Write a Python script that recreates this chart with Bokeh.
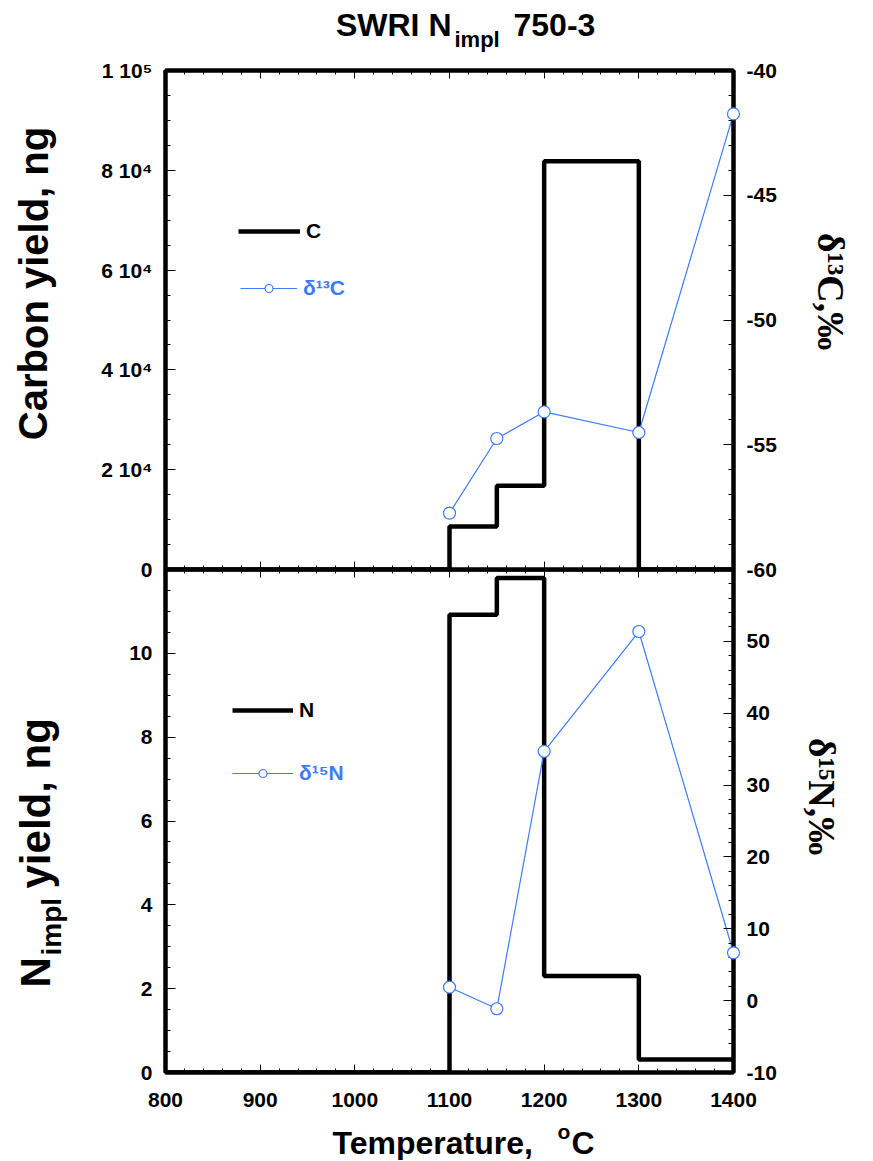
from bokeh.plotting import figure
from bokeh.models import (Range1d, LinearAxis, FixedTicker, Legend,
                          LegendItem, ColumnDataSource)
from bokeh.core.properties import value
from bokeh.layouts import column
from bokeh.embed import file_html
from bokeh.resources import INLINE

# ---------------- data ----------------
step_temps = [800, 1100, 1150, 1200, 1300, 1400]
c_yield = [0, 8600, 16800, 81800, 0, 0]
n_yield = [0, 10.92, 11.80, 2.30, 0.31, 0.31]

d_temps = [1100, 1150, 1200, 1300, 1400]
d13c = [-57.74, -54.75, -53.68, -54.51, -41.74]
d15n = [1.87, -1.13, 34.7, 51.37, 6.66]

x_ticks = [800, 900, 1000, 1100, 1200, 1300, 1400]
x_minor = list(range(800, 1401, 20))
c_ticks = [0, 20000, 40000, 60000, 80000, 100000]
c_tick_labels = ["0", "2 10⁴", "4 10⁴", "6 10⁴", "8 10⁴", "1 10⁵"]
c_minor = list(range(0, 100001, 5000))
d13_ticks = [-60, -55, -50, -45, -40]
d13_tick_labels = ["-60", "-55", "-50", "-45", "-40"]
d13_minor = list(range(-60, -39, 1))
n_ticks = [0, 2, 4, 6, 8, 10]
n_minor = [i * 0.5 for i in range(0, 25)]
d15_ticks = [-10, 0, 10, 20, 30, 40, 50]
d15_tick_labels = ["-10", "0", "10", "20", "30", "40", "50"]
d15_minor = list(range(-10, 61, 2))

FONT = "Liberation Sans"
SERIF = "Liberation Serif"
BLUE = "#3d7cf5"
ROT = 1.5707963

# frame geometry in page pixels
FL, FR, T1, B1, B2 = 165, 733, 70, 569, 1072


def xd(px):
    return 800 + (px - FL) * 600.0 / (FR - FL)


def y1(py):
    return (B1 - py) * 100000.0 / (B1 - T1)


def y2(py):
    return (B2 - py) * 12.0 / (B2 - B1)


def style_y(ax, ticks, minor, labels=None):
    ax.ticker = FixedTicker(ticks=ticks, minor_ticks=minor)
    if labels is not None:
        ax.major_label_overrides = dict(zip(ticks, labels))
    ax.axis_line_width = 4
    ax.axis_line_color = "black"
    ax.major_tick_in = 10
    ax.major_tick_out = 0
    ax.minor_tick_in = 5
    ax.minor_tick_out = 0
    ax.major_tick_line_color = "black"
    ax.minor_tick_line_color = "black"
    ax.major_tick_line_width = 1
    ax.minor_tick_line_width = 1
    ax.major_label_text_font = FONT
    ax.major_label_text_font_style = "bold"
    ax.major_label_text_font_size = "21px"
    ax.major_label_text_color = "black"
    ax.major_label_standoff = 13


def style_x(ax, show_labels, cross=False):
    ax.ticker = FixedTicker(ticks=x_ticks, minor_ticks=x_minor)
    ax.axis_line_width = 4
    ax.axis_line_color = "black"
    ax.major_tick_in = 8
    ax.major_tick_out = 8 if cross else 0
    ax.minor_tick_in = 4
    ax.minor_tick_out = 4 if cross else 0
    ax.major_tick_line_color = "black"
    ax.minor_tick_line_color = "black"
    ax.major_tick_line_width = 1
    ax.minor_tick_line_width = 1
    ax.major_label_text_font = FONT
    ax.major_label_text_font_style = "bold"
    ax.major_label_text_color = "black"
    if show_labels:
        ax.major_label_text_font_size = "21px"
        ax.major_label_standoff = 20
    else:
        ax.major_label_overrides = {t: "" for t in x_ticks}
        ax.major_label_text_font_size = "1px"
        ax.major_label_standoff = 0


def add_text(p, text, px, py, yfun, size, align="left", angle=0.0,
             font=FONT, color="black"):
    # (px, py) = page position of the text's vertical middle
    p.text(x=[xd(px)], y=[yfun(py)], text=[text], angle=angle,
           text_font=value(font), text_font_style="bold",
           text_font_size=value(f"{size}px"), text_align=align,
           text_baseline="middle", text_color=color, level="overlay")


def make_legend(item, loc, color, glyph_w):
    return Legend(items=[item], location=loc, glyph_width=glyph_w,
                  glyph_height=20, label_height=20, label_standoff=6,
                  padding=0, margin=0, spacing=0, border_line_alpha=0,
                  background_fill_alpha=0, label_text_font=FONT,
                  label_text_font_style="bold", label_text_font_size="21px",
                  label_text_color=color)


# ---------------- top panel ----------------
p1 = figure(frame_width=FR - FL, frame_height=B1 - T1,
            x_range=Range1d(800, 1400), y_range=Range1d(0, 100000),
            min_border_left=FL, min_border_right=873 - FR,
            min_border_top=T1, min_border_bottom=14,
            toolbar_location=None, output_backend="svg")
p1.extra_y_ranges = {"d13": Range1d(-60, -40)}
p1.xgrid.visible = False
p1.ygrid.visible = False
p1.outline_line_color = "black"
p1.outline_line_width = 4

style_y(p1.yaxis[0], c_ticks, c_minor, c_tick_labels)
style_x(p1.xaxis[0], False, cross=True)
ax_top = LinearAxis()
style_x(ax_top, False)
p1.add_layout(ax_top, "above")
ax_r1 = LinearAxis(y_range_name="d13")
style_y(ax_r1, d13_ticks, d13_minor, d13_tick_labels)
p1.add_layout(ax_r1, "right")

src_c = ColumnDataSource(dict(t=step_temps, v=c_yield))
st1 = p1.step(x="t", y="v", source=src_c, mode="after", line_width=4.5,
              line_color="black")
src_d13 = ColumnDataSource(dict(t=d_temps, v=d13c))
ln1 = p1.line(x="t", y="v", source=src_d13, y_range_name="d13",
              line_color=BLUE, line_width=1.2)
sc1 = p1.scatter(x="t", y="v", source=src_d13, y_range_name="d13",
                 marker="circle", size=12, fill_color="white",
                 line_color=BLUE, line_width=1.2, level="overlay")

p1.add_layout(make_legend(LegendItem(label="C", renderers=[st1]),
                          (73, 326), "black", 62))
p1.add_layout(make_legend(LegendItem(label="δ¹³C", renderers=[ln1, sc1]),
                          (75, 269), BLUE, 57))

# title
add_text(p1, "SWRI N", 451, 24, y1, 32, align="right")
add_text(p1, "impl", 454, 39, y1, 22)
add_text(p1, "750-3", 513, 24, y1, 32)
# axis titles
add_text(p1, "Carbon yield, ng", 33, 283, y1, 40, align="center", angle=ROT)
add_text(p1, "δ¹³C,‰", 830, 291, y1, 38, align="center", angle=-ROT,
         font=SERIF)

# ---------------- bottom panel ----------------
p2 = figure(frame_width=FR - FL, frame_height=B2 - B1,
            x_range=p1.x_range, y_range=Range1d(0, 12),
            min_border_left=FL, min_border_right=873 - FR,
            min_border_top=0, min_border_bottom=88,
            margin=(-14, 0, 0, 0),
            toolbar_location=None, output_backend="svg")
p2.extra_y_ranges = {"d15": Range1d(-10, 60)}
p2.border_fill_alpha = 0
p2.background_fill_alpha = 0
p2.xgrid.visible = False
p2.ygrid.visible = False
p2.outline_line_color = "black"
p2.outline_line_width = 4

style_y(p2.yaxis[0], n_ticks, n_minor)
style_x(p2.xaxis[0], True)
ax_r2 = LinearAxis(y_range_name="d15")
style_y(ax_r2, d15_ticks, d15_minor, d15_tick_labels)
p2.add_layout(ax_r2, "right")

src_n = ColumnDataSource(dict(t=step_temps, v=n_yield))
st2 = p2.step(x="t", y="v", source=src_n, mode="after", line_width=4.5,
              line_color="black")
src_d15 = ColumnDataSource(dict(t=d_temps, v=d15n))
ln2 = p2.line(x="t", y="v", source=src_d15, y_range_name="d15",
              line_color=BLUE, line_width=1.2)
sc2 = p2.scatter(x="t", y="v", source=src_d15, y_range_name="d15",
                 marker="circle", size=12, fill_color="white",
                 line_color=BLUE, line_width=1.2, level="overlay")

p2.add_layout(make_legend(LegendItem(label="N", renderers=[st2]),
                          (67, 350), "black", 61))
p2.add_layout(make_legend(LegendItem(label="δ¹⁵N", renderers=[ln2, sc2]),
                          (67, 287), BLUE, 61))

# axis titles
add_text(p2, "N", 35, 987, y2, 42, angle=ROT)
add_text(p2, "impl", 51, 955, y2, 28, angle=ROT)
add_text(p2, "yield, ng", 35, 888, y2, 42, angle=ROT)
add_text(p2, "δ¹⁵N,‰", 821, 796, y2, 38, align="center", angle=-ROT,
         font=SERIF)
add_text(p2, "Temperature,", 332, 1142, y2, 32)
add_text(p2, "o", 557, 1131, y2, 21)
add_text(p2, "C", 571, 1142, y2, 32)

layout = column(p1, p2, spacing=0)
open("out.html", "w").write(file_html(layout, INLINE))
